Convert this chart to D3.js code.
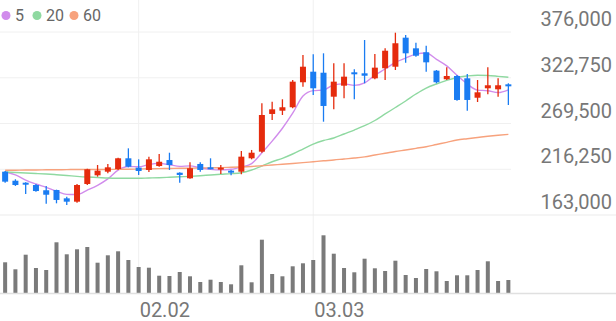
<!DOCTYPE html>
<meta charset="utf-8">
<style>

body {
  margin: 0;
  background: #fff;
}
svg {
  display: block;
  font-family: Roboto, "Noto Sans", sans-serif;
}
.price-label, .date-label {
  fill: #777;
  font-size: 20px;
}
.legend text {
  fill: #666;
  font-size: 16px;
}

</style>
<script src="https://cdn.jsdelivr.net/npm/d3@7"></script>
<body>
<svg width="616" height="321"></svg>
<script>

// trading days shown
var dates = ["01.14","01.15","01.16","01.19","01.20","01.21","01.22","01.23","01.26","01.27","01.28","01.29","01.30",
  "02.02","02.03","02.04","02.05","02.06","02.09","02.10","02.11","02.12","02.13","02.19","02.20","02.23","02.24","02.25","02.26","02.27",
  "03.03","03.04","03.05","03.06","03.09","03.10","03.11","03.12","03.13","03.16","03.17","03.18","03.19","03.20","03.23","03.24","03.25","03.26","03.27","03.30"];

var opens  = [213400,202900,200600,197900,191800,192100,182400,178500,199100,209200,213400,216500,229000,
  218100,215400,220000,227000,212200,205700,222400,218500,216200,214600,213400,229000,236700,280600,284400,288400,317500,
  329800,328600,300700,313500,329100,327900,322100,333800,335600,369400,357000,352400,331000,321000,324800,322100,299500,310500,309300,315100];
var highs  = [214200,204600,201000,199100,196800,192500,184300,199100,216800,221200,222400,229600,240600,
  227800,230900,234000,235500,212800,224300,224300,229000,221200,215400,237500,238700,293000,294900,297700,320100,349200,
  350100,351200,339600,339600,332600,366700,350400,357000,375200,372500,363600,360100,331800,334900,326000,327100,320100,334900,322100,316300];
var lows   = [200600,196800,187400,190100,176200,176600,174600,177300,197900,207600,211500,215400,218500,
  209600,213100,219200,215400,200600,205100,213400,216200,210700,209200,210400,227800,235500,273600,279400,287200,312300,
  302700,271600,286000,298800,297700,316300,321000,320100,331800,340300,347300,329800,316300,320100,296000,284400,294500,303500,300700,291000];
var closes = [201800,197900,198300,190900,186600,180500,178500,197900,216200,214600,218500,229000,219200,
  214200,227800,225000,221200,209600,217400,215400,216900,218100,213100,230900,235500,279400,286000,288400,318200,335600,
  310500,289900,318200,324000,326800,325100,334500,354200,362900,351200,348400,340700,317500,324800,296900,296900,305800,314000,314000,313200];

// moving averages
var ma5  = [213400,209600,203700,199100,195100,190800,187000,186900,192000,197600,205100,215300,219500,
  219100,221800,223100,221500,219600,220200,217700,216100,215500,216200,218900,222800,235400,249000,264000,281500,301500,
  307700,308500,314400,315600,313900,316800,325700,332900,340700,345600,350300,351500,344100,336600,325600,315400,308400,307700,305500,308700];
var ma20 = [213100,212500,211900,211300,210700,209900,209000,208000,207200,206700,206100,205800,205700,
  205700,206100,206400,206900,207500,208000,208700,209600,210400,211100,212200,215400,220000,225000,229000,234000,239800,
  245600,249700,252600,257300,261900,266900,273000,280600,288100,295700,303800,310800,315500,319600,323100,324800,325700,325400,324400,323300];
var ma60 = [215000,215100,215400,215400,215600,215700,215800,216000,216000,216000,216100,216200,216300,
  216500,216800,217000,217200,217400,217500,217700,217900,218200,218500,218900,219500,220300,221200,222000,222900,223900,
  225000,226100,227000,228200,229300,230700,232800,234800,236900,238700,240600,242500,245100,247600,250300,251800,253200,254600,255800,256900];

var volumes = [312000,242000,388000,255000,235000,512000,392000,442000,465000,308000,382000,422000,335000,
  265000,258000,178000,175000,215000,172000,115000,138000,115000,92000,282000,112000,538000,195000,172000,272000,302000,
  335000,582000,398000,255000,212000,348000,252000,225000,328000,185000,155000,245000,222000,125000,182000,182000,235000,322000,125000,135000];

var priceTicks = [163000, 216250, 269500, 322750, 376000];
var dateTicks = ["02.02", "03.03"];
var maNames = ["5", "20", "60"];
var maColors = ["#d18cec", "#8fd9a1", "#f7a27d"];

var upColor = "#e52b0d",
    downColor = "#1a7cf2";

var svg = d3.select("svg"),
    width = +svg.attr("width"),
    plotRight = 511,
    priceTop = 32,
    priceBottom = 215,
    volBottom = 293.5;

var x = d3.scalePoint()
    .domain(dates)
    .range([0, 513.5])
    .padding(0.5);

var y = d3.scaleLinear()
    .domain([163000, 376000])
    .range([priceBottom, priceTop]);

var yVol = d3.scaleLinear()
    .domain([0, 600000])
    .range([volBottom, volBottom - 60]);

var data = dates.map(function(d, i) {
  return {date: d, o: opens[i], h: highs[i], l: lows[i], c: closes[i], v: volumes[i],
          ma: [ma5[i], ma20[i], ma60[i]]};
});

// grid
svg.append("g").selectAll("line")
  .data(priceTicks.slice(1))
  .enter().append("line")
    .attr("x1", 0).attr("x2", plotRight)
    .attr("y1", function(d) { return y(d); })
    .attr("y2", function(d) { return y(d); })
    .attr("stroke", "#f0f0f0");

svg.append("g").selectAll("line")
  .data(dateTicks)
  .enter().append("line")
    .attr("x1", function(d) { return x(d); })
    .attr("x2", function(d) { return x(d); })
    .attr("y1", 0).attr("y2", volBottom)
    .attr("stroke", "#f0f0f0");

svg.append("line")
    .attr("x1", 0).attr("x2", width)
    .attr("y1", y(163000)).attr("y2", y(163000))
    .attr("stroke", "#ebebeb");

// volume
svg.append("g").selectAll("rect")
  .data(data)
  .enter().append("rect")
    .attr("x", function(d) { return x(d.date) - 2; })
    .attr("width", 4)
    .attr("y", function(d) { return yVol(d.v); })
    .attr("height", function(d) { return volBottom - yVol(d.v); })
    .attr("fill", "#7a7a7a");

svg.append("line")
    .attr("x1", 0).attr("x2", width)
    .attr("y1", volBottom).attr("y2", volBottom)
    .attr("stroke", "#e0e0e0")
    .attr("stroke-width", 1.5);

// moving averages
maNames.forEach(function(name, k) {
  var line = d3.line()
      .x(function(d) { return x(d.date); })
      .y(function(d) { return y(d.ma[k]); })
      .curve(d3.curveMonotoneX);
  svg.append("path")
      .datum(data)
      .attr("d", line)
      .attr("fill", "none")
      .attr("stroke", maColors[k])
      .attr("stroke-width", 1.4);
});

// candles
var candle = svg.append("g").selectAll("g")
  .data(data)
  .enter().append("g")
    .attr("fill", function(d) { return d.c >= d.o ? upColor : downColor; })
    .attr("stroke", function(d) { return d.c >= d.o ? upColor : downColor; });

candle.append("line")
    .attr("x1", function(d) { return x(d.date); })
    .attr("x2", function(d) { return x(d.date); })
    .attr("y1", function(d) { return y(d.h); })
    .attr("y2", function(d) { return y(d.l); })
    .attr("stroke-width", 1.3);

candle.append("rect")
    .attr("stroke", "none")
    .attr("x", function(d) { return x(d.date) - 3; })
    .attr("width", 6)
    .attr("y", function(d) { return y(Math.max(d.o, d.c)); })
    .attr("height", function(d) { return Math.max(2, Math.abs(y(d.o) - y(d.c))); });

// axis labels
svg.append("g").selectAll("text")
  .data(priceTicks)
  .enter().append("text")
    .attr("class", "price-label")
    .attr("x", 612)
    .attr("y", function(d) { return y(d) - 6; })
    .attr("text-anchor", "end")
    .text(d3.format(","));

svg.append("g").selectAll("text")
  .data(dateTicks)
  .enter().append("text")
    .attr("class", "date-label")
    .attr("x", function(d) { return x(d) + 1; })
    .attr("y", 316.5)
    .text(function(d) { return d; });

// legend
var legendX = [6, 37, 74];
var legend = svg.append("g").attr("class", "legend")
  .selectAll("g")
  .data(maNames)
  .enter().append("g")
    .attr("transform", function(d, i) { return "translate(" + legendX[i] + ",15.5)"; });

legend.append("circle")
    .attr("r", 4.5)
    .attr("fill", function(d, i) { return maColors[i]; });

legend.append("text")
    .attr("x", 9)
    .attr("y", 5.5)
    .text(function(d) { return d; });

</script>
</body>
